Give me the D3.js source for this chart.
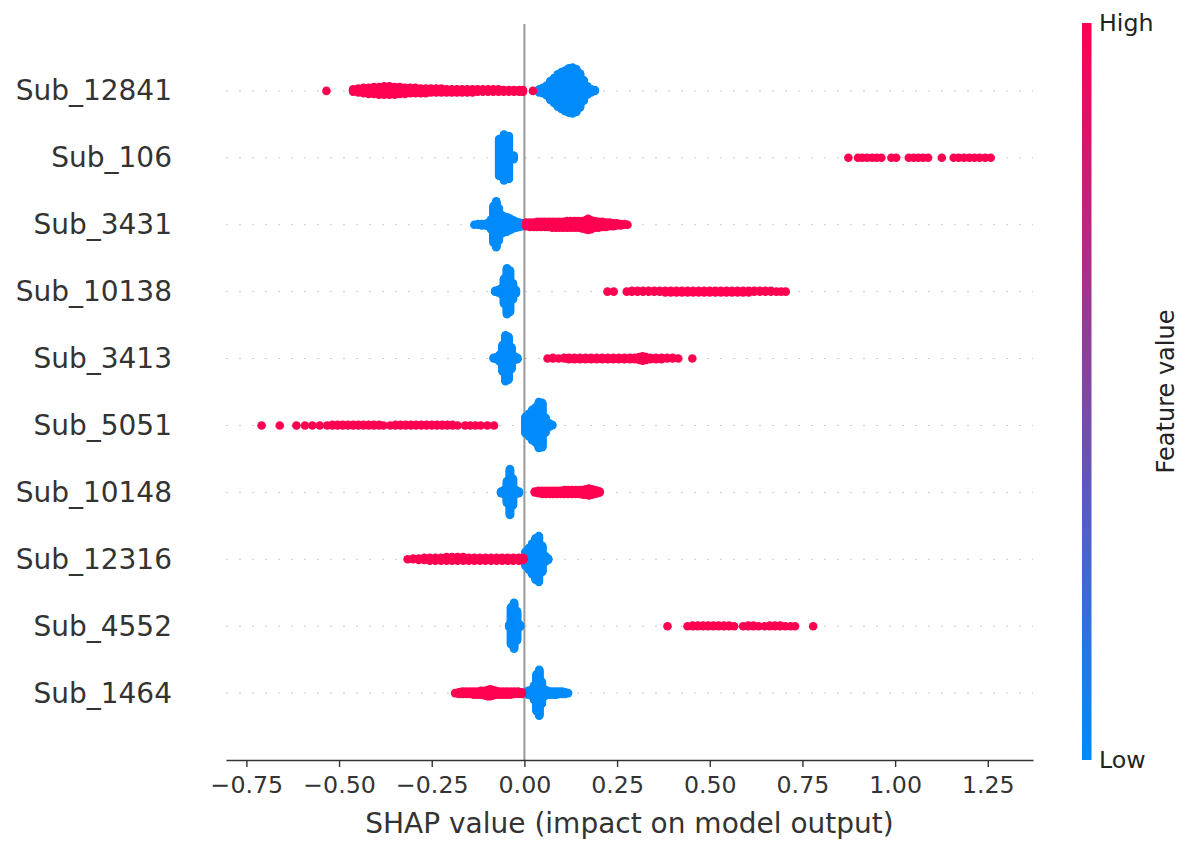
<!DOCTYPE html>
<html>
<head>
<meta charset="utf-8">
<script src="https://cdn.jsdelivr.net/npm/d3@7"></script>
<style>
  html, body { margin: 0; padding: 0; background: #fff; }
  svg { display: block; font-family: "DejaVu Sans", sans-serif; }
</style>
</head>
<body>
<div id="chart"></div>
<script>
// features from top to bottom
const features = ["Sub_12841", "Sub_106", "Sub_3431", "Sub_10138", "Sub_3413",
  "Sub_5051", "Sub_10148", "Sub_12316", "Sub_4552", "Sub_1464"];
const xTicks = [-0.75, -0.5, -0.25, 0, 0.25, 0.5, 0.75, 1.0, 1.25];
const colorLabels = ["Low", "High"];

// [SHAP value, number of samples]; low = blue, high = red
const lowSub12841 = [[0.04,5],[0.05,8],[0.06,14],[0.07,26],[0.08,34],[0.09,44],[0.10,50],[0.11,55],[0.12,60],[0.13,62],[0.14,58],[0.15,46],[0.16,28],[0.17,12],[0.18,5],[0.19,2]];
const highSub12841 = [[-0.534,1],[-0.462,4],[-0.448,6],[-0.434,8],[-0.42,9],[-0.406,10],[-0.392,11],[-0.378,12],[-0.364,12],[-0.35,11],[-0.336,10],[-0.322,9],[-0.308,8],[-0.294,8],[-0.28,7],[-0.266,7],[-0.252,6],[-0.238,6],[-0.224,6],[-0.21,5],[-0.196,5],[-0.182,5],[-0.168,5],[-0.154,5],[-0.14,5],[-0.126,4],[-0.112,4],[-0.098,4],[-0.084,4],[-0.07,4],[-0.056,3],[-0.042,3],[-0.028,3],[-0.014,3],[-0.004,3],[0.023,1]];

const lowSub106 = [[-0.068,50],[-0.055,62],[-0.042,58],[-0.029,6]];
const highSub106 = [[0.874,1],[0.9,1],[0.912,1],[0.925,1],[0.938,1],[0.95,1],[0.963,1],[0.99,1],[1.003,1],[1.037,1],[1.05,1],[1.063,1],[1.076,1],[1.089,1],[1.126,1],[1.158,1],[1.172,1],[1.186,1],[1.2,1],[1.214,1],[1.228,1],[1.243,1],[1.258,1]];

const lowSub3431 = [[-0.135,1],[-0.125,2],[-0.115,3],[-0.105,3],[-0.097,6],[-0.09,14],[-0.083,50],[-0.076,62],[-0.069,44],[-0.062,26],[-0.054,22],[-0.046,20],[-0.038,16],[-0.03,12],[-0.022,9],[-0.014,7],[-0.006,5]];
const highSub3431 = [[0.005,6],[0.015,7],[0.025,7],[0.035,8],[0.045,8],[0.055,8],[0.065,8],[0.075,9],[0.085,9],[0.095,9],[0.105,9],[0.115,10],[0.125,10],[0.135,10],[0.145,10],[0.155,11],[0.165,13],[0.172,16],[0.18,13],[0.19,10],[0.2,9],[0.21,8],[0.22,7],[0.23,6],[0.24,5],[0.25,4],[0.26,3],[0.27,2],[0.278,1]];

const lowSub10138 = [[-0.079,2],[-0.071,4],[-0.063,8],[-0.055,34],[-0.047,62],[-0.039,56],[-0.031,22],[-0.023,5]];
const highSub10138 = [[0.224,1],[0.241,1],[0.276,1],[0.29,2],[0.305,2],[0.32,2],[0.335,2],[0.35,2],[0.365,2],[0.38,3],[0.395,3],[0.41,3],[0.425,3],[0.44,3],[0.455,3],[0.47,3],[0.485,3],[0.5,3],[0.515,3],[0.53,3],[0.545,3],[0.56,3],[0.575,3],[0.59,3],[0.605,3],[0.62,2],[0.635,2],[0.65,2],[0.665,2],[0.68,1],[0.693,1],[0.705,1]];

const lowSub3413 = [[-0.083,2],[-0.075,4],[-0.067,10],[-0.059,36],[-0.051,62],[-0.043,58],[-0.035,30],[-0.027,6],[-0.019,3]];
const highSub3413 = [[0.0625,1],[0.077,2],[0.092,1],[0.107,2],[0.12,3],[0.135,3],[0.15,3],[0.165,3],[0.18,3],[0.195,3],[0.21,3],[0.225,3],[0.24,3],[0.255,3],[0.27,3],[0.285,3],[0.298,3],[0.31,5],[0.319,7],[0.328,5],[0.34,3],[0.355,3],[0.37,3],[0.385,2],[0.4,2],[0.415,1],[0.453,1]];

const lowSub5051 = [[0.003,22],[0.012,30],[0.021,40],[0.03,46],[0.039,60],[0.048,58],[0.057,20],[0.066,6],[0.075,2]];
const highSub5051 = [[-0.709,1],[-0.66,1],[-0.615,1],[-0.592,1],[-0.572,1],[-0.552,1],[-0.532,1],[-0.518,2],[-0.504,2],[-0.49,2],[-0.476,2],[-0.462,2],[-0.448,2],[-0.434,2],[-0.42,2],[-0.406,2],[-0.392,2],[-0.38,1],[-0.362,1],[-0.348,2],[-0.334,2],[-0.32,2],[-0.306,2],[-0.292,2],[-0.278,2],[-0.264,2],[-0.25,2],[-0.236,2],[-0.222,2],[-0.208,2],[-0.194,2],[-0.18,1],[-0.16,1],[-0.146,1],[-0.132,1],[-0.118,1],[-0.1,1],[-0.082,1]];

const lowSub10148 = [[-0.063,3],[-0.055,6],[-0.047,30],[-0.039,62],[-0.031,36],[-0.023,6],[-0.015,3]];
const highSub10148 = [[0.028,2],[0.038,4],[0.048,5],[0.058,5],[0.068,5],[0.078,5],[0.088,5],[0.098,5],[0.108,6],[0.118,6],[0.128,6],[0.138,6],[0.148,6],[0.158,7],[0.166,8],[0.174,10],[0.182,8],[0.19,6],[0.197,4],[0.203,2]];

const lowSub12316 = [[0.003,20],[0.012,30],[0.021,42],[0.03,56],[0.039,62],[0.048,36],[0.057,8],[0.064,3]];
const highSub12316 = [[-0.315,1],[-0.3,2],[-0.285,3],[-0.27,4],[-0.255,5],[-0.24,5],[-0.225,5],[-0.21,6],[-0.195,6],[-0.18,6],[-0.165,6],[-0.15,5],[-0.135,5],[-0.12,5],[-0.105,5],[-0.09,5],[-0.075,5],[-0.06,5],[-0.045,5],[-0.03,5],[-0.015,5],[-0.003,4]];

const lowSub4552 = [[-0.041,4],[-0.036,50],[-0.028,62],[-0.02,40],[-0.012,4]];
const highSub4552 = [[0.386,1],[0.44,1],[0.454,2],[0.468,2],[0.482,2],[0.496,2],[0.51,2],[0.524,2],[0.538,2],[0.552,2],[0.566,1],[0.59,1],[0.604,2],[0.618,2],[0.632,1],[0.648,1],[0.662,2],[0.676,2],[0.69,2],[0.704,1],[0.718,1],[0.73,1],[0.779,1]];

const lowSub1464 = [[0.01,6],[0.018,8],[0.026,20],[0.033,50],[0.04,62],[0.047,30],[0.054,10],[0.062,6],[0.07,5],[0.078,5],[0.086,5],[0.094,4],[0.102,4],[0.11,3],[0.118,1]];
const highSub1464 = [[-0.187,1],[-0.177,3],[-0.167,4],[-0.157,4],[-0.147,4],[-0.137,5],[-0.127,5],[-0.117,6],[-0.107,7],[-0.099,9],[-0.092,10],[-0.085,8],[-0.077,6],[-0.067,5],[-0.057,5],[-0.047,5],[-0.037,5],[-0.027,4],[-0.017,4],[-0.007,3]];

const lowValues = [lowSub12841, lowSub106, lowSub3431, lowSub10138, lowSub3413,
  lowSub5051, lowSub10148, lowSub12316, lowSub4552, lowSub1464];
const highValues = [highSub12841, highSub106, highSub3431, highSub10138, highSub3413,
  highSub5051, highSub10148, highSub12316, highSub4552, highSub1464];

const w = 1193;
const h = 849;

const svg = d3
  .select("#chart")
  .append("svg")
  .attr("width", w)
  .attr("height", h);

const x = d3.scaleLinear().domain([-0.805, 1.372]).range([226, 1033]);
const y = d3.scaleLinear().domain([-1, features.length]).range([760, 24]);
const color = d3
  .scaleSequential(d3.interpolateRgb("#008bfb", "#ff0051"))
  .domain([0, 1]);

// same stacking as shap's beeswarm: 100 bins per row, alternate up/down in each bin
function swarm(low, high) {
  const pts = [];
  low.forEach(([v, n]) => { for (let k = 0; k < n; k++) pts.push({ v, f: 0 }); });
  high.forEach(([v, n]) => { for (let k = 0; k < n; k++) pts.push({ v, f: 1 }); });
  const [lo, hi] = d3.extent(pts, (d) => d.v);
  pts.forEach((d) => (d.q = Math.round((100 * (d.v - lo)) / (hi - lo + 1e-8))));
  let layer = 0;
  let last = -1;
  pts
    .slice()
    .sort((a, b) => a.q - b.q)
    .forEach((d) => {
      if (d.q !== last) layer = 0;
      d.layer = Math.ceil(layer / 2) * ((layer % 2) * 2 - 1);
      layer++;
      last = d.q;
    });
  const top = d3.max(pts, (d) => d.layer + 1);
  pts.forEach((d) => (d.off = (d.layer * 0.9 * 0.4) / top));
  return pts;
}

const rows = features.map((name, i) => ({
  name,
  pos: features.length - 1 - i,
  points: swarm(lowValues[i], highValues[i]),
}));

// dotted row guides
svg
  .append("g")
  .selectAll("line")
  .data(rows)
  .enter()
  .append("line")
  .attr("x1", x.range()[0])
  .attr("x2", x.range()[1])
  .attr("y1", (d) => y(d.pos))
  .attr("y2", (d) => y(d.pos))
  .attr("stroke", "#cccccc")
  .attr("stroke-width", 1)
  .attr("stroke-dasharray", "2 11");

// zero line
svg
  .append("line")
  .attr("x1", x(0))
  .attr("x2", x(0))
  .attr("y1", y(features.length))
  .attr("y2", y(-1))
  .attr("stroke", "#999999")
  .attr("stroke-width", 2);

rows.forEach((row) => {
  svg
    .append("g")
    .selectAll("circle")
    .data(row.points)
    .enter()
    .append("circle")
    .attr("cx", (d) => x(d.v))
    .attr("cy", (d) => y(row.pos + d.off))
    .attr("r", 4.3)
    .attr("fill", (d) => color(d.f));
});

// feature names
svg
  .append("g")
  .selectAll("text")
  .data(rows)
  .enter()
  .append("text")
  .attr("x", 172)
  .attr("y", (d) => y(d.pos))
  .attr("text-anchor", "end")
  .attr("dominant-baseline", "central")
  .attr("font-size", 28)
  .attr("fill", "#333333")
  .text((d) => d.name);

// x axis
const xAxis = svg
  .append("g")
  .attr("transform", "translate(0,760)")
  .call(
    d3
      .axisBottom(x)
      .tickValues(xTicks)
      .tickFormat(d3.format(".2f"))
      .tickSizeInner(7)
      .tickSizeOuter(0)
      .tickPadding(9)
  );
xAxis.select(".domain").attr("stroke", "#333333").attr("stroke-width", 1.6);
xAxis.selectAll(".tick line").attr("stroke", "#333333").attr("stroke-width", 1.4);
xAxis
  .selectAll(".tick text")
  .attr("font-size", 23.7)
  .attr("font-family", "DejaVu Sans")
  .attr("fill", "#333333");

svg
  .append("text")
  .attr("x", (x.range()[0] + x.range()[1]) / 2)
  .attr("y", 833)
  .attr("text-anchor", "middle")
  .attr("font-size", 28)
  .attr("fill", "#333333")
  .text("SHAP value (impact on model output)");

// colour bar
const grad = svg
  .append("defs")
  .append("linearGradient")
  .attr("id", "fv")
  .attr("x1", 0)
  .attr("y1", 1)
  .attr("x2", 0)
  .attr("y2", 0);
grad
  .selectAll("stop")
  .data(d3.range(0, 1.0001, 0.05))
  .enter()
  .append("stop")
  .attr("offset", (d) => d)
  .attr("stop-color", (d) => color(d));

const cbY = d3.scaleLinear().domain([0, 1]).range([760, 23]);

svg
  .append("rect")
  .attr("x", 1082)
  .attr("y", cbY(1))
  .attr("width", 9.5)
  .attr("height", cbY(0) - cbY(1))
  .attr("fill", "url(#fv)");

svg
  .append("g")
  .selectAll("text")
  .data(colorLabels)
  .enter()
  .append("text")
  .attr("x", 1099)
  .attr("y", (d, i) => cbY(i))
  .attr("dominant-baseline", "central")
  .attr("font-size", 23.7)
  .attr("fill", "#222222")
  .text((d) => d);

svg
  .append("text")
  .attr("transform", `translate(1166,${(cbY(0) + cbY(1)) / 2}) rotate(-90)`)
  .attr("text-anchor", "middle")
  .attr("dominant-baseline", "central")
  .attr("font-size", 24)
  .attr("fill", "#222222")
  .text("Feature value");
</script>
</body>
</html>
